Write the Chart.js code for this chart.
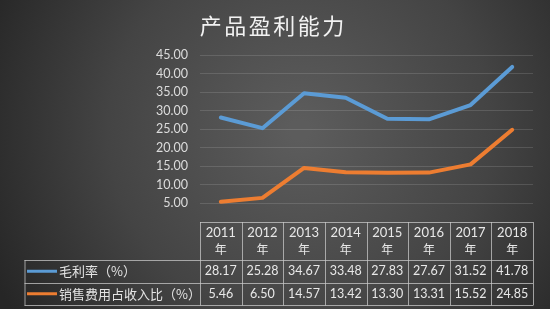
<!DOCTYPE html>
<html>
<head>
<meta charset="utf-8">
<script src="https://cdn.jsdelivr.net/npm/chart.js@4.4.1/dist/chart.umd.min.js"></script>
<style>
html,body{margin:0;padding:0;background:#2b2b2b;}
#wrap{position:relative;width:550px;height:309px;}
</style>
</head>
<body>
<div id="wrap"><canvas id="c" width="550" height="309"></canvas></div>
<script>
const chartTitle = '产品盈利能力';
const categories = ['2011', '2012', '2013', '2014', '2015', '2016', '2017', '2018'];
const yearSuffix = '年';
const seriesNames = ['毛利率（%）', '销售费用占收入比（%）'];
const grossMargin = [28.17, 25.28, 34.67, 33.48, 27.83, 27.67, 31.52, 41.78];
const salesExpenseRatio = [5.46, 6.50, 14.57, 13.42, 13.30, 13.31, 15.52, 24.85];
const yTickMin = 0, yTickMax = 45, yTickStep = 5;
const colors = ['#5b9bd5', '#ed7d31'];
const series = [grossMargin, salesExpenseRatio];

const numFont = '"Lato", "Liberation Sans", sans-serif';
const cjkFont = '"Noto Sans CJK SC", sans-serif';

const bgPlugin = {
  id: 'bg',
  beforeDraw(chart) {
    const ctx = chart.ctx;
    const g = ctx.createRadialGradient(300, 130, 10, 300, 130, 340);
    g.addColorStop(0, '#5c5c5c');
    g.addColorStop(0.55, '#444444');
    g.addColorStop(1, '#262626');
    ctx.save();
    ctx.fillStyle = g;
    ctx.fillRect(0, 0, chart.width, chart.height);
    // title
    ctx.fillStyle = '#f2f2f2';
    ctx.font = '22px ' + cjkFont;
    ctx.textBaseline = 'middle';
    ctx.textAlign = 'center';
    const chars = [...chartTitle];
    const step = 24.5;
    const cx = 272;
    chars.forEach((ch, i) => {
      ctx.fillText(ch, cx + (i - (chars.length - 1) / 2) * step, 26);
    });
    ctx.restore();
  }
};

const tablePlugin = {
  id: 'table',
  afterDraw(chart) {
    const ctx = chart.ctx;
    const xs = chart.scales.x;
    const area = chart.chartArea;
    const n = categories.length;
    const colW = (area.right - area.left) / n;
    const top = area.bottom;
    const r1 = top + 38, r2 = r1 + 22.5, bottom = r2 + 22.5;
    const leftX = 24.5;
    ctx.save();
    ctx.strokeStyle = 'rgba(200,200,200,0.75)';
    ctx.lineWidth = 1;
    ctx.beginPath();
    ctx.moveTo(area.left, top + 0.5); ctx.lineTo(area.right, top + 0.5);
    [r1, r2, bottom].forEach(y => { ctx.moveTo(leftX, Math.round(y) + 0.5); ctx.lineTo(area.right, Math.round(y) + 0.5); });
    for (let i = 0; i <= n; i++) {
      const x = Math.round(area.left + i * colW) + 0.5;
      ctx.moveTo(x, top); ctx.lineTo(x, Math.round(bottom) + 0.5);
    }
    ctx.moveTo(leftX + 0.5, Math.round(r1)); ctx.lineTo(leftX + 0.5, Math.round(bottom) + 0.5);
    ctx.stroke();

    ctx.textAlign = 'center';
    ctx.textBaseline = 'middle';
    ctx.fillStyle = '#e8e8e8';
    categories.forEach((c, i) => {
      const x = xs.getPixelForValue(i);
      ctx.font = '13px ' + numFont;
      ctx.fillText(c, x, top + 11);
      ctx.font = '12px ' + cjkFont;
      ctx.fillText(yearSuffix, x, top + 27);
    });
    const rowsY = [(r1 + r2) / 2, (r2 + bottom) / 2];
    series.forEach((s, k) => {
      ctx.font = '12.5px ' + numFont;
      ctx.textAlign = 'center';
      ctx.fillStyle = '#e8e8e8';
      s.forEach((v, i) => {
        ctx.fillText(v.toFixed(2), xs.getPixelForValue(i), rowsY[k]);
      });
      ctx.strokeStyle = colors[k];
      ctx.lineWidth = 3;
      ctx.beginPath();
      ctx.moveTo(27, rowsY[k]); ctx.lineTo(57, rowsY[k]);
      ctx.stroke();
      ctx.textAlign = 'left';
      ctx.font = '13px ' + cjkFont;
      ctx.fillStyle = '#e4e4e4';
      ctx.fillText(seriesNames[k], 59, rowsY[k]);
    });
    ctx.restore();
  }
};

new Chart(document.getElementById('c'), {
  type: 'line',
  data: {
    labels: categories,
    datasets: series.map((s, k) => ({
      label: seriesNames[k],
      data: s,
      borderColor: colors[k],
      backgroundColor: colors[k],
      borderWidth: 4,
      pointRadius: 0,
      tension: 0,
      borderCapStyle: 'round',
      borderJoinStyle: 'round'
    }))
  },
  options: {
    responsive: false,
    animation: false,
    devicePixelRatio: 1,
    layout: { padding: { left: 0, right: 17, top: 55, bottom: 87 } },
    plugins: { legend: { display: false }, title: { display: false }, tooltip: { enabled: false } },
    scales: {
      x: { type: 'category', offset: true, display: false },
      y: {
        min: yTickMin, max: yTickMax,
        border: { display: false },
        grid: { color: 'rgba(255,255,255,0.13)', drawTicks: false, lineWidth: 1 },
        ticks: {
          stepSize: yTickStep,
          padding: 12,
          color: '#dcdcdc',
          font: { family: numFont, size: 12.5 },
          callback: v => v === 0 ? null : v.toFixed(2)
        },
        afterFit(scale) { scale.width = 200; }
      }
    }
  },
  plugins: [bgPlugin, tablePlugin]
});
</script>
</body>
</html>
